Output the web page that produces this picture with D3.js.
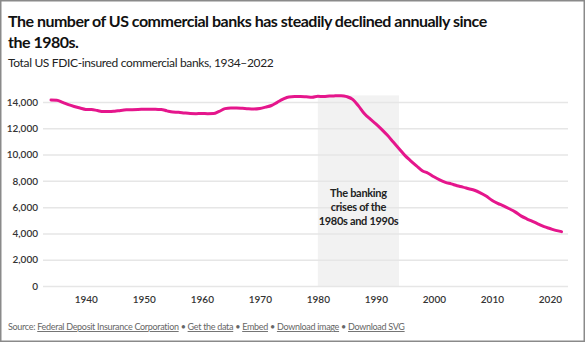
<!DOCTYPE html>
<html>
<head>
<meta charset="utf-8">
<script src="https://cdn.jsdelivr.net/npm/d3@7"></script>
<style>
    body { margin: 0; background: #fff; }
    text { font-family: Lato, "Open Sans", sans-serif; }
</style>
</head>
<body>
<div id="chart"></div>
<script>
const years = d3.range(1934, 2023);
const banks = [
    14146, 14125, 13969, 13795, 13657, 13538, 13438, 13427, 13347, 13274,
    13268, 13302, 13359, 13403, 13419, 13436, 13446, 13455, 13439, 13432,
    13323, 13237, 13218, 13165, 13124, 13114, 13126, 13115, 13124, 13291,
    13493, 13547, 13541, 13517, 13488, 13473, 13511, 13612, 13733, 13976,
    14216, 14384, 14411, 14412, 14391, 14364, 14434, 14414, 14451, 14469,
    14483, 14407, 14199, 13703, 13123, 12709, 12343, 11921, 11462, 10958,
    10451, 9940, 9528, 9143, 8774, 8580, 8315, 8079, 7887, 7769,
    7630, 7526, 7401, 7284, 7086, 6840, 6529, 6291, 6096, 5876,
    5642, 5338, 5113, 4918, 4715, 4518, 4375, 4236, 4136
];
const xTicks = [1940, 1950, 1960, 1970, 1980, 1990, 2000, 2010, 2020];
const yTicks = [0, 2000, 4000, 6000, 8000, 10000, 12000, 14000];
const crisis = [1980, 1994];
const crisisLabel = ["The banking", "crises of the", "1980s and 1990s"];
const title = ["The number of US commercial banks has steadily declined annually since", "the 1980s."];
const subtitle = "Total US FDIC-insured commercial banks, 1934\u20132022";
const footer = ["Federal Deposit Insurance Corporation", "Get the data", "Embed", "Download image", "Download SVG"];

const width = 585;
const height = 342;
const margin = { top: 102, bottom: 56, left: 43, right: 17 };

const data = years.map((y, i) => ({ year: y, value: banks[i] }));

const svg = d3
    .select("#chart")
    .append("svg")
    .attr("width", width)
    .attr("height", height);

// frame
svg.append("rect")
    .attr("x", 0.75).attr("y", 0.75)
    .attr("width", width - 1.5).attr("height", height - 1.5)
    .attr("fill", "none")
    .attr("stroke", "#8a8a8a")
    .attr("stroke-width", 1.5);

const titleG = svg.append("g");
title.forEach((t, i) => {
    titleG.append("text")
        .attr("x", 8)
        .attr("y", 27 + i * 21)
        .text(t)
        .style("font-size", "16px")
        .style("letter-spacing", "-0.5px")
        .style("font-weight", "bold")
        .style("fill", "#111");
});
titleG.append("text")
    .attr("x", 8)
    .attr("y", 67)
    .text(subtitle)
    .style("font-size", "12px")
    .style("letter-spacing", "-0.35px")
    .style("fill", "#222");

let x = d3.scaleLinear().domain([1934, 2022]).range([51, 561.5]);
let y = d3.scaleLinear().domain([0, 14000]).range([286, 102]);

// shaded crisis band
svg.append("rect")
    .attr("x", x(crisis[0]))
    .attr("y", y(14500))
    .attr("width", x(crisis[1]) - x(crisis[0]))
    .attr("height", y(0) - y(14500))
    .attr("fill", "#f2f2f2");

const yAxis = d3.axisLeft(y).tickValues(yTicks)
    .tickSize(-(568 - margin.left))
    .tickFormat(d3.format(","));
const yAxisGroup = svg.append("g")
    .attr("transform", `translate(${margin.left},0)`)
    .call(yAxis);
yAxisGroup.select(".domain").remove();
yAxisGroup.selectAll("line")
    .attr("stroke", "#e6e6e6")
    .attr("stroke-width", 1.5);
yAxisGroup.selectAll("text")
    .attr("x", -5)
    .style("font-size", "10px")
    .style("font-weight", "600")
    .style("fill", "#333")
    .style("font-family", "Lato, sans-serif");

const xAxis = d3.axisBottom(x).tickValues(xTicks).tickSize(0).tickFormat(d3.format("d"));
const xAxisGroup = svg.append("g")
    .attr("transform", `translate(0,${y(0)})`)
    .call(xAxis);
xAxisGroup.select(".domain").remove();
xAxisGroup.selectAll("text")
    .attr("dy", "1.05em")
    .attr("y", 6)
    .style("font-size", "10px")
    .style("font-weight", "600")
    .style("fill", "#333")
    .style("font-family", "Lato, sans-serif");

// crisis annotation
const labelG = svg.append("g");
crisisLabel.forEach((t, i) => {
    labelG.append("text")
        .attr("x", (x(crisis[0]) + x(crisis[1])) / 2)
        .attr("y", 197 + i * 14)
        .attr("text-anchor", "middle")
        .text(t)
        .style("font-size", "11px")
        .style("letter-spacing", "-0.3px")
        .style("font-weight", "bold")
        .style("fill", "#222");
});

const valueLine = d3.line()
    .x((d) => x(d.year))
    .y((d) => y(d.value))
    .curve(d3.curveMonotoneX);

svg.append("path")
    .attr("d", valueLine(data))
    .attr("fill", "none")
    .attr("stroke", "#e5168c")
    .attr("stroke-width", 3)
    .attr("stroke-linecap", "round")
    .attr("stroke-linejoin", "round");

// footer
const foot = svg.append("text")
    .attr("x", 8)
    .attr("y", 330)
    .style("font-size", "9px")
    .style("letter-spacing", "-0.3px")
    .style("fill", "#666");
foot.append("tspan").text("Source: ");
footer.forEach((f, i) => {
    if (i > 0) foot.append("tspan").text(" \u2022 ");
    foot.append("tspan")
        .text(f)
        .style("text-decoration", "underline")
        .style("text-decoration-color", "#bcd9ee");
});
</script>
</body>
</html>
